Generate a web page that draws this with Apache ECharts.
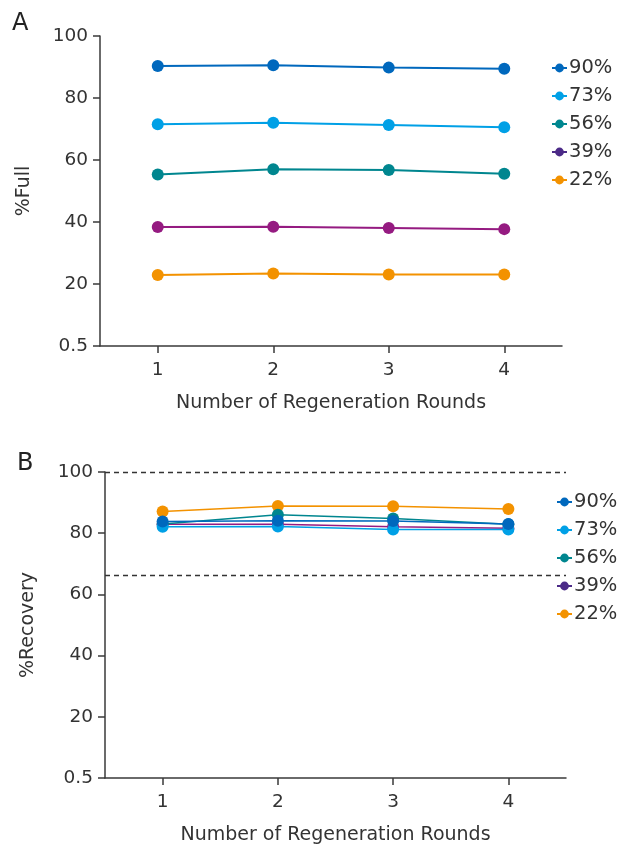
<!DOCTYPE html>
<html>
<head>
<meta charset="utf-8">
<script src="https://cdn.jsdelivr.net/npm/echarts@6/dist/echarts.min.js"></script>
<style>html,body{margin:0;padding:0;background:#fff}#c{width:618px;height:846px}</style>
</head>
<body>
<div id="c"></div>
<script>
const rounds = ['1', '2', '3', '4'];
const seriesNames = ['90%', '73%', '56%', '39%', '22%'];
const colors = ['#0068bd', '#00a0e6', '#00868f', '#951b81', '#f39200'];
const legendColors = ['#0068bd', '#00a0e6', '#00868f', '#4b2a87', '#f39200'];
// Panel A: %Full
const full90 = [90.3, 90.6, 89.8, 89.4];
const full73 = [71.5, 72.0, 71.3, 70.6];
const full56 = [55.3, 57.0, 56.8, 55.6];
const full39 = [38.4, 38.5, 38.1, 37.7];
const full22 = [22.9, 23.4, 23.1, 23.1];
// Panel B: %Recovery
const rec90 = [83.8, 84.1, 84.0, 83.0];
const rec73 = [82.1, 82.2, 81.2, 81.2];
const rec56 = [83.0, 86.0, 84.8, 82.9];
const rec39 = [82.9, 82.9, 82.1, 81.6];
const rec22 = [87.1, 88.9, 88.8, 87.9];
const yTicks = [0, 20, 40, 60, 80, 100];
const yTickLabels = ['0.5', '20', '40', '60', '80', '100'];
const refLines = [100, 66.2];

const FONT = 'DejaVu Sans';
const FS = 18.5;
const TXT = '#333333';
const fullData = [full90, full73, full56, full39, full22];
const recData = [rec90, rec73, rec56, rec39, rec22];

function yAxis(gridIndex, name, gap) {
  return {
    type: 'value', gridIndex, min: 0, max: 100, interval: 20,
    name, nameLocation: 'middle', nameGap: gap,
    nameTextStyle: { color: TXT, fontFamily: FONT, fontSize: 19 },
    axisLine: { show: true, lineStyle: { color: '#3a3a3a', width: 1.5 } },
    axisTick: { show: true, length: 7, lineStyle: { color: '#3a3a3a', width: 1.5 } },
    axisLabel: { color: TXT, fontFamily: FONT, fontSize: FS, margin: 12,
      formatter: v => yTickLabels[yTicks.indexOf(v)] },
    splitLine: { show: false }
  };
}
function xAxis(gridIndex) {
  return {
    type: 'category', gridIndex, data: rounds, boundaryGap: true,
    name: 'Number of Regeneration Rounds', nameLocation: 'middle', nameGap: 48,
    nameTextStyle: { color: TXT, fontFamily: FONT, fontSize: 19 },
    axisLine: { show: true, lineStyle: { color: '#3a3a3a', width: 1.5 } },
    axisTick: { show: true, alignWithLabel: true, length: 7, lineStyle: { color: '#3a3a3a', width: 1.5 } },
    axisLabel: { color: TXT, fontFamily: FONT, fontSize: FS, margin: 15 },
    splitLine: { show: false }
  };
}
const series = [];
// draw order so that 90% is on top
const order = [4, 3, 2, 1, 0];
order.forEach((i, k) => {
  series.push({
    type: 'line', name: seriesNames[i], xAxisIndex: 0, yAxisIndex: 0,
    data: fullData[i], symbol: 'circle', symbolSize: 12, z: 2 + k,
    itemStyle: { color: colors[i] }, lineStyle: { color: colors[i], width: 2 },
    emphasis: { disabled: true }
  });
});
order.forEach((i, k) => {
  const s = {
    type: 'line', name: seriesNames[i], xAxisIndex: 1, yAxisIndex: 1,
    data: recData[i], symbol: 'circle', symbolSize: 12, z: 2 + k,
    itemStyle: { color: colors[i] }, lineStyle: { color: colors[i], width: 1.5 },
    emphasis: { disabled: true }
  };
  if (k === 0) {
    s.markLine = {
      silent: true, symbol: 'none', label: { show: false },
      lineStyle: { color: '#333', type: [5, 4], width: 1.3 },
      data: refLines.map(v => ({ yAxis: v }))
    };
  }
  series.push(s);
});
function legend(top, left) {
  return {
    orient: 'vertical', top, left, itemGap: 8, itemWidth: 15, itemHeight: 11,
    textStyle: { color: TXT, fontFamily: FONT, fontSize: 19.5, padding: [0, 0, 0, -3] },
    selectedMode: false,
    data: seriesNames.map((n, i) => ({ name: n, itemStyle: { color: legendColors[i] }, lineStyle: { color: legendColors[i] } }))
  };
}
const chart = echarts.init(document.getElementById('c'), null, { renderer: 'canvas' });
chart.setOption({
  animation: false,
  backgroundColor: '#fff',
  title: [
    { text: 'A', left: 7, top: 7, textStyle: { fontFamily: FONT, fontSize: 24, fontWeight: 'normal', color: '#222' } },
    { text: 'B', left: 12, top: 447, textStyle: { fontFamily: FONT, fontSize: 24, fontWeight: 'normal', color: '#222' } }
  ],
  grid: [
    { left: 100, right: 56, top: 36, height: 310 },
    { left: 105, right: 52, top: 472, height: 308 }
  ],
  xAxis: [xAxis(0), xAxis(1)],
  yAxis: [yAxis(0, '%Full', 66), yAxis(1, '%Recovery', 67)],
  legend: [legend(53, 546), legend(487, 551)],
  series
});
</script>
</body>
</html>
